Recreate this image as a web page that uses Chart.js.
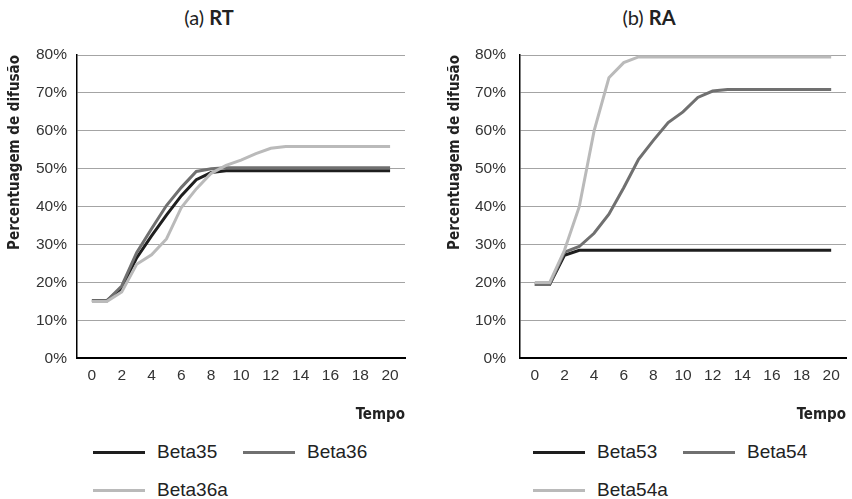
<!DOCTYPE html>
<html lang="pt">
  <head>
    <meta charset="UTF-8" />
    <title>Percentuagem de difusão</title>
    <script src="https://cdn.jsdelivr.net/npm/chart.js"></script>
    <style>
      body {
        margin: 0;
        width: 852px;
        height: 499px;
        background: #fff;
        position: relative;
        overflow: hidden;
        font-family: 'Liberation Sans', Arial, sans-serif;
      }
      .panel {
        position: absolute;
        top: 0;
        height: 430px;
      }
      .title {
        position: absolute;
        top: 5px;
        width: 418px;
        text-align: center;
        font-family: Lato, 'Noto Sans', sans-serif;
        font-size: 20px;
        color: #222;
      }
      .title b {
        font-weight: 700;
      }
      .legend {
        position: absolute;
        top: 433px;
        display: grid;
        grid-template-columns: 150px 150px;
        grid-auto-rows: 38px;
        font-size: 19px;
        color: #222;
      }
      .legend div {
        display: flex;
        align-items: center;
      }
      .legend span.line {
        display: inline-block;
        width: 52px;
        height: 3px;
        margin-right: 12px;
      }
    </style>
  </head>
  <body>
    <div class="title" style="left: 0px">(a) <b>RT</b></div>
    <div class="title" style="left: 440px">(b) <b>RA</b></div>

    <div class="panel" style="left: 0px; width: 426px">
      <canvas id="chartRT"></canvas>
    </div>
    <div class="panel" style="left: 440px; width: 412px">
      <canvas id="chartRA"></canvas>
    </div>

    <div class="legend" id="legendRT" style="left: 93px"></div>
    <div class="legend" id="legendRA" style="left: 533px"></div>

    <script>
      // tempo 0..20
      const tempo = [0, 1, 2, 3, 4, 5, 6, 7, 8, 9, 10, 11, 12, 13, 14, 15, 16, 17, 18, 19, 20]
      const xTicks = [0, 2, 4, 6, 8, 10, 12, 14, 16, 18, 20]

      // (a) RT
      const beta35 = [15.2, 15.2, 18.5, 26.5, 32.3, 37.8, 42.9, 47.1, 49.0, 49.5, 49.5, 49.5, 49.5, 49.5, 49.5, 49.5, 49.5, 49.5, 49.5, 49.5, 49.5]
      const beta36 = [15.2, 15.2, 19.1, 27.9, 34.2, 40.3, 45.1, 49.3, 50.0, 50.3, 50.3, 50.3, 50.3, 50.3, 50.3, 50.3, 50.3, 50.3, 50.3, 50.3, 50.3]
      const beta36a = [15.0, 15.0, 17.5, 24.8, 27.3, 31.5, 39.8, 44.7, 48.8, 50.9, 52.3, 54.0, 55.4, 55.9, 55.9, 55.9, 55.9, 55.9, 55.9, 55.9, 55.9]

      // (b) RA
      const beta53 = [19.5, 19.5, 27.2, 28.5, 28.5, 28.5, 28.5, 28.5, 28.5, 28.5, 28.5, 28.5, 28.5, 28.5, 28.5, 28.5, 28.5, 28.5, 28.5, 28.5, 28.5]
      const beta54 = [19.5, 19.5, 28.0, 29.5, 33.0, 38.0, 45.0, 52.5, 57.5, 62.2, 65.0, 68.8, 70.5, 70.9, 70.9, 70.9, 70.9, 70.9, 70.9, 70.9, 70.9]
      const beta54a = [20.0, 20.0, 28.5, 40.0, 60.0, 74.0, 78.0, 79.5, 79.5, 79.5, 79.5, 79.5, 79.5, 79.5, 79.5, 79.5, 79.5, 79.5, 79.5, 79.5, 79.5]

      const colors = ['#1e1e1e', '#707070', '#bababa']
      const narrow = "'Liberation Sans Narrow', 'DejaVu Sans Condensed', sans-serif"

      function makeChart(id, legendId, series, names, opts) {
        const datasets = series.map((vals, i) => ({
          label: names[i],
          data: vals.map((v, j) => ({ x: tempo[j], y: v })),
          borderColor: colors[i],
          borderWidth: 3,
          pointRadius: 0,
          tension: 0,
          fill: false,
          order: series.length - i // later series drawn on top
        }))

        const chart = new Chart(document.getElementById(id), {
          type: 'line',
          data: { datasets: datasets },
          options: {
            responsive: true,
            maintainAspectRatio: false,
            animation: false,
            layout: { padding: { top: 55, right: opts.right, bottom: 6, left: 0 } },
            plugins: { legend: { display: false }, tooltip: { enabled: false } },
            scales: {
              x: {
                type: 'linear',
                min: -1,
                max: 21,
                afterBuildTicks: axis => {
                  axis.ticks = xTicks.map(v => ({ value: v }))
                },
                grid: { display: false, drawTicks: false },
                border: { display: true, color: '#000', width: 2 },
                ticks: {
                  padding: 8,
                  color: '#333',
                  maxRotation: 0,
                  font: { family: "'Liberation Sans', Arial, sans-serif", size: 15.5 }
                },
                title: {
                  display: true,
                  text: 'Tempo',
                  align: 'end',
                  color: '#222',
                  padding: { top: 13, bottom: 0 },
                  font: { family: narrow, size: 15, weight: 'bold' }
                }
              },
              y: {
                min: 0,
                max: 80,
                afterFit: axis => {
                  axis.width = opts.axisLeft
                },
                ticks: {
                  stepSize: 10,
                  padding: opts.tickPad,
                  color: '#333',
                  callback: v => v + '%',
                  font: { family: "'Liberation Sans', Arial, sans-serif", size: 15.5 }
                },
                grid: {
                  drawTicks: false,
                  color: ctx => (ctx.tick && ctx.tick.value === 0 ? 'transparent' : '#a4a4a4'),
                  lineWidth: 1
                },
                border: { display: true, color: '#000', width: 1.5 },
                title: {
                  display: true,
                  text: 'Percentuagem de difusão',
                  align: 'end',
                  color: '#222',
                  padding: { top: 6, bottom: 0 },
                  font: { family: narrow, size: 15, weight: 'bold' }
                }
              }
            }
          }
        })

        // legend built from the datasets
        const box = document.getElementById(legendId)
        chart.data.datasets.forEach(ds => {
          const item = document.createElement('div')
          const line = document.createElement('span')
          line.className = 'line'
          line.style.background = ds.borderColor
          item.appendChild(line)
          item.appendChild(document.createTextNode(ds.label))
          box.appendChild(item)
        })
        return chart
      }

      makeChart('chartRT', 'legendRT', [beta35, beta36, beta36a], ['Beta35', 'Beta36', 'Beta36a'], {
        right: 21,
        axisLeft: 77,
        tickPad: 10
      })
      makeChart('chartRA', 'legendRA', [beta53, beta54, beta54a], ['Beta53', 'Beta54', 'Beta54a'], {
        right: 6,
        axisLeft: 80,
        tickPad: 14
      })
    </script>
  </body>
</html>
